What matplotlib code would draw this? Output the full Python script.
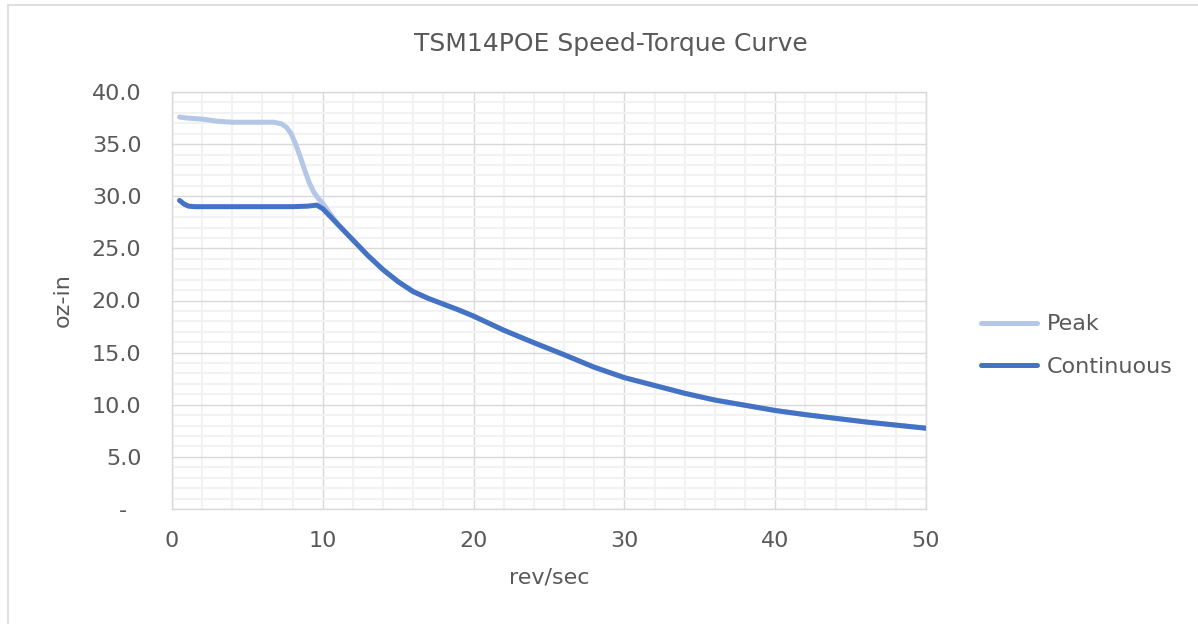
import matplotlib
matplotlib.use("Agg")
import matplotlib.pyplot as plt
from matplotlib.ticker import MultipleLocator, FuncFormatter
from matplotlib.patches import Rectangle

# ---- data ----
peak_speed = [0.5, 1, 2, 3, 4, 5, 6, 6.75, 7.25, 7.6, 7.9, 8.2, 8.5, 8.8, 9.1, 9.4, 9.7, 10,
              10.5, 11, 12, 13, 14, 15, 16, 17, 18, 19, 20, 22, 24, 26, 28, 30, 32, 34, 36, 38,
              40, 42, 44, 46, 48, 50]
peak_torque = [37.6, 37.5, 37.4, 37.2, 37.1, 37.1, 37.1, 37.1, 36.95, 36.6, 36.0, 35.0, 33.8,
               32.5, 31.3, 30.4, 29.8, 29.3, 28.3, 27.3, 25.8, 24.3, 22.95, 21.8, 20.85, 20.2,
               19.65, 19.1, 18.5, 17.15, 15.95, 14.8, 13.6, 12.6, 11.85, 11.1, 10.45, 9.95, 9.45,
               9.05, 8.7, 8.35, 8.05, 7.75]

cont_speed = [0.5, 0.8, 1.1, 1.5, 2, 4, 6, 8, 9, 9.6, 10, 11, 12, 13, 14, 15, 16, 17, 18, 19, 20,
              22, 24, 26, 28, 30, 32, 34, 36, 38, 40, 42, 44, 46, 48, 50]
cont_torque = [29.6, 29.25, 29.05, 29.0, 29.0, 29.0, 29.0, 29.0, 29.05, 29.15, 28.8, 27.3, 25.8,
               24.3, 22.95, 21.8, 20.85, 20.2, 19.65, 19.1, 18.5, 17.15, 15.95, 14.8, 13.6, 12.6,
               11.85, 11.1, 10.45, 9.95, 9.45, 9.05, 8.7, 8.35, 8.05, 7.75]

series_names = ["Peak", "Continuous"]
title = "TSM14POE Speed-Torque Curve"
x_label = "rev/sec"
y_label = "oz-in"

# ---- style ----
TEXT = "#595959"
MAJOR = "#D9D9D9"
MINOR = "#F2F2F2"
PEAK_C = "#B4C7E7"
CONT_C = "#4472C4"

W, H = 1198, 624
fig = plt.figure(figsize=(W / 100, H / 100), dpi=100)
fig.patch.set_facecolor("white")

# outer chart border (top + left visible)
fig.patches.append(Rectangle((7.5 / W, -0.1), 1.2, (H - 5) / H + 0.1, transform=fig.transFigure,
                             fill=False, edgecolor="#D9D9D9", linewidth=1.2))

ax_l, ax_r, ax_t, ax_b = 172, 926, 92, 509
ax = fig.add_axes([ax_l / W, (H - ax_b) / H, (ax_r - ax_l) / W, (ax_b - ax_t) / H])

ax.plot(peak_speed, peak_torque, color=PEAK_C, lw=3.6, solid_capstyle="round",
        solid_joinstyle="round", label=series_names[0], zorder=3)
ax.plot(cont_speed, cont_torque, color=CONT_C, lw=3.6, solid_capstyle="round",
        solid_joinstyle="round", label=series_names[1], zorder=4)

ax.set_xlim(0, 50)
ax.set_ylim(0, 40)
ax.xaxis.set_major_locator(MultipleLocator(10))
ax.xaxis.set_minor_locator(MultipleLocator(2))
ax.yaxis.set_major_locator(MultipleLocator(5))
ax.yaxis.set_minor_locator(MultipleLocator(1))
ax.yaxis.set_major_formatter(FuncFormatter(lambda v, p: "-  " if abs(v) < 1e-9 else f"{v:.1f}"))

ax.grid(which="minor", color=MINOR, lw=1.5, zorder=0)
ax.grid(which="major", color=MAJOR, lw=1.0, zorder=1)
ax.set_axisbelow(True)
for s in ax.spines.values():
    s.set_color(MAJOR)
    s.set_linewidth(1.0)

ax.tick_params(which="both", length=0, colors=TEXT, labelsize=16)
ax.tick_params(axis="y", pad=22)
ax.tick_params(axis="x", pad=16)

ax.set_xlabel(x_label, fontsize=16, color=TEXT, labelpad=12)
ax.set_ylabel(y_label, fontsize=16, color=TEXT, labelpad=14)

fig.text(611 / W, 1 - 44 / H, title, ha="center", va="center", fontsize=18, color=TEXT)

leg = fig.legend(loc="center left", bbox_to_anchor=(981 / W, 1 - 345.5 / H), frameon=False,
                 fontsize=16, handlelength=2.5, handletextpad=0.45, labelspacing=1.0,
                 borderpad=0, borderaxespad=0)
for t in leg.get_texts():
    t.set_color(TEXT)

fig.savefig("out.png", dpi=100, facecolor="white")
